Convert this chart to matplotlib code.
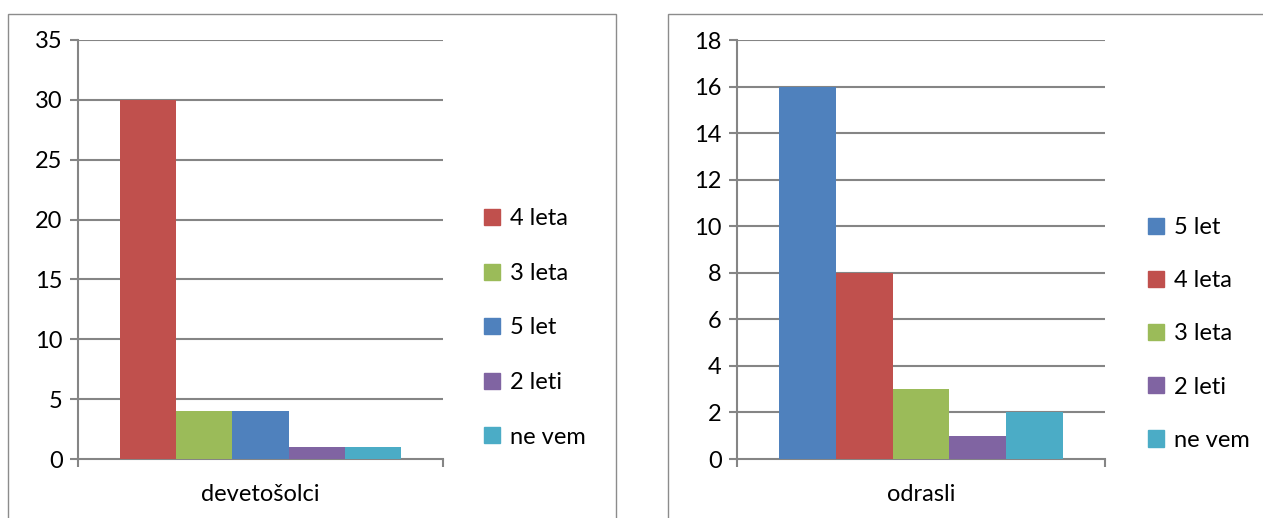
import matplotlib
matplotlib.use("Agg")
import matplotlib.pyplot as plt
from matplotlib.patches import Rectangle, Patch

plt.rcParams['font.family'] = ['Lato', 'DejaVu Sans']

W, H = 1263, 518

# data
left_category = "devetošolci"
left_labels = ["4 leta", "3 leta", "5 let", "2 leti", "ne vem"]
left_values = [30, 4, 4, 1, 1]

right_category = "odrasli"
right_labels = ["5 let", "4 leta", "3 leta", "2 leti", "ne vem"]
right_values = [16, 8, 3, 1, 2]

colors = {"5 let": "#4F81BD", "4 leta": "#C0504D", "3 leta": "#9BBB59",
          "2 leti": "#8064A2", "ne vem": "#4BACC6"}

fig = plt.figure(figsize=(W / 100, H / 100), dpi=100)
fig.patch.set_facecolor("white")

# chart frames
for (bx0, bx1) in [(8, 616), (668, 1270)]:
    fig.patches.append(Rectangle((bx0 / W, -0.1), (bx1 - bx0) / W, (H - 14) / H + 0.1,
                                 transform=fig.transFigure, fill=False,
                                 edgecolor="#8c8c8c", linewidth=1.0))

grid_c = "#858585"
fs = 17


def make_chart(x0, x1, category, labels, values, ymax, step, leg_x, leg_y, lsp):
    ax = fig.add_axes([x0 / W, (H - 459) / H, (x1 - x0) / W, (459 - 40) / H])
    w = 0.1545
    for i, (lab, v) in enumerate(zip(labels, values)):
        ax.bar((i - 2) * w, v, width=w, color=colors[lab], label=lab, zorder=3)
    ax.set_xlim(-0.5, 0.5)
    ax.set_ylim(0, ymax)
    ticks = list(range(0, ymax + 1, step))
    ax.set_yticks(ticks)
    for t in ticks[1:]:
        ax.axhline(t, color=grid_c, linewidth=1.5, zorder=1)
    for s in ["top", "right"]:
        ax.spines[s].set_visible(False)
    for s in ["left", "bottom"]:
        ax.spines[s].set_color(grid_c)
        ax.spines[s].set_linewidth(1.5)
    ax.tick_params(axis="y", length=6, width=1.5, color=grid_c, pad=5,
                   labelsize=fs, labelcolor="black")
    ax.set_xticks([0], [category])
    ax.set_xticks([-0.5, 0.5], minor=True)
    ax.tick_params(axis="x", which="major", length=0, pad=18, labelsize=fs)
    ax.tick_params(axis="x", which="minor", length=6, width=1.5, color=grid_c)
    handles = [Patch(color=colors[l]) for l in labels]
    ax.legend(handles, labels, loc="center left", frameon=False,
              bbox_to_anchor=(leg_x / W, (H - leg_y) / H),
              bbox_transform=fig.transFigure, fontsize=fs,
              handlelength=0.68, handleheight=0.68, handletextpad=0.4,
              labelspacing=lsp, borderaxespad=0, borderpad=0)
    return ax


make_chart(78, 443, left_category, left_labels, left_values, 35, 5, 484, 328, 1.42)
make_chart(737, 1105, right_category, right_labels, right_values, 18, 2, 1148, 334, 1.36)

fig.savefig("out.png", dpi=100)
